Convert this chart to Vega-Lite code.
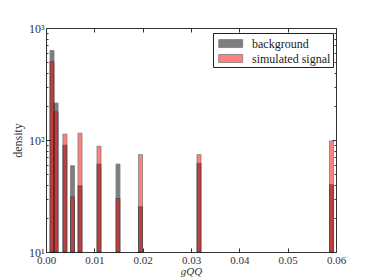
{
  "$schema": "https://vega.github.io/schema/vega-lite/v6.json",
  "width": 290,
  "height": 224,
  "autosize": {"type": "none"},
  "padding": {"left": 46, "top": 28, "right": 38, "bottom": 28},
  "background": "white",
  "config": {
    "font": "Liberation Serif",
    "view": {"stroke": "#333", "strokeWidth": 1}
  },
  "data": {
    "values": [
      {"start": 0.00083, "end": 0.00166, "series": "background", "density": 630},
      {"start": 0.00166, "end": 0.0025, "series": "background", "density": 214},
      {"start": 0.0035, "end": 0.00433, "series": "background", "density": 90},
      {"start": 0.00507, "end": 0.0059, "series": "background", "density": 59},
      {"start": 0.00662, "end": 0.00745, "series": "background", "density": 39},
      {"start": 0.01055, "end": 0.01138, "series": "background", "density": 61},
      {"start": 0.01448, "end": 0.01531, "series": "background", "density": 61},
      {"start": 0.01914, "end": 0.01997, "series": "background", "density": 25.4},
      {"start": 0.03124, "end": 0.03207, "series": "background", "density": 62},
      {"start": 0.05866, "end": 0.05949, "series": "background", "density": 40},
      {"start": 0.00083, "end": 0.00166, "series": "simulated signal", "density": 500},
      {"start": 0.00166, "end": 0.0025, "series": "simulated signal", "density": 178},
      {"start": 0.0035, "end": 0.00433, "series": "simulated signal", "density": 113},
      {"start": 0.00507, "end": 0.0059, "series": "simulated signal", "density": 31},
      {"start": 0.00662, "end": 0.00745, "series": "simulated signal", "density": 115},
      {"start": 0.01055, "end": 0.01138, "series": "simulated signal", "density": 88},
      {"start": 0.01448, "end": 0.01531, "series": "simulated signal", "density": 30},
      {"start": 0.01914, "end": 0.01997, "series": "simulated signal", "density": 74},
      {"start": 0.03124, "end": 0.03207, "series": "simulated signal", "density": 74},
      {"start": 0.05866, "end": 0.05949, "series": "simulated signal", "density": 98}
    ]
  },
  "layer": [
    {
      "transform": [{"filter": "datum.series === 'background'"}],
      "mark": {"type": "bar", "opacity": 0.5, "stroke": "#000", "strokeWidth": 0.8},
      "encoding": {
        "x": {
          "field": "start", "type": "quantitative",
          "scale": {"domain": [0, 0.06], "nice": false, "zero": false},
          "axis": {
            "orient": "bottom", "values": [0, 0.01, 0.02, 0.03, 0.04, 0.05, 0.06],
            "format": ".2f", "grid": false, "domain": false,
            "labelFlush": false, "labelOverlap": false,
            "tickSize": -4, "tickColor": "#333", "labelPadding": 6,
            "labelFontSize": 11, "labelColor": "#333",
            "title": "gQQ", "titleFontSize": 11, "titleFontStyle": "italic",
            "titleFontWeight": "normal", "titleColor": "#333", "titlePadding": 0
          }
        },
        "x2": {"field": "end"},
        "y": {
          "field": "density", "type": "quantitative",
          "scale": {"type": "log", "domain": [10, 1000], "nice": false},
          "axis": {
            "orient": "left",
            "values": [10, 20, 30, 40, 50, 60, 70, 80, 90, 100, 200, 300, 400, 500, 600, 700, 800, 900, 1000],
            "labelExpr": "datum.value == 10 ? '10¹' : datum.value == 100 ? '10²' : datum.value == 1000 ? '10³' : ''",
            "grid": false, "domain": false,
            "labelFlush": false, "labelOverlap": false,
            "tickSize": {"condition": {"test": "datum.value == 10 || datum.value == 100 || datum.value == 1000", "value": -4}, "value": -2},
            "tickColor": "#333", "labelPadding": 6,
            "labelFontSize": 12, "labelColor": "#333",
            "title": "density", "titleFontSize": 12, "titleFontWeight": "normal",
            "titleColor": "#333", "titlePadding": 4
          }
        },
        "y2": {"datum": 10},
        "color": {
          "field": "series", "type": "nominal",
          "scale": {"domain": ["background", "simulated signal"], "range": ["#000000", "#ff0000"]},
          "legend": {
            "orient": "none", "legendX": 167, "legendY": 5, "title": null,
            "symbolType": "M-0.6,-0.5H2.4V0.5H-0.6Z", "symbolSize": 256,
            "symbolOpacity": 0.5, "symbolStrokeColor": "#000", "symbolStrokeWidth": 0.8,
            "labelOffset": 20, "labelFontSize": 12, "labelColor": "#222",
            "rowPadding": 0, "padding": 2,
            "strokeColor": "#222", "fillColor": "white"
          }
        }
      }
    },
    {
      "transform": [{"filter": "datum.series === 'simulated signal'"}],
      "mark": {"type": "bar", "opacity": 0.5, "stroke": "#000", "strokeWidth": 0.8},
      "encoding": {
        "x": {
          "field": "start", "type": "quantitative",
          "axis": {
            "orient": "top", "values": [0, 0.01, 0.02, 0.03, 0.04, 0.05, 0.06],
            "labels": false, "grid": false, "domain": false, "title": null,
            "tickSize": -4, "tickColor": "#333"
          }
        },
        "x2": {"field": "end"},
        "y": {
          "field": "density", "type": "quantitative",
          "axis": {
            "orient": "right",
            "values": [10, 20, 30, 40, 50, 60, 70, 80, 90, 100, 200, 300, 400, 500, 600, 700, 800, 900, 1000],
            "labels": false, "grid": false, "domain": false, "title": null,
            "tickSize": {"condition": {"test": "datum.value == 10 || datum.value == 100 || datum.value == 1000", "value": -4}, "value": -2},
            "tickColor": "#333"
          }
        },
        "y2": {"datum": 10},
        "color": {"field": "series", "type": "nominal"}
      }
    }
  ],
  "resolve": {"axis": {"x": "independent", "y": "independent"}}
}
